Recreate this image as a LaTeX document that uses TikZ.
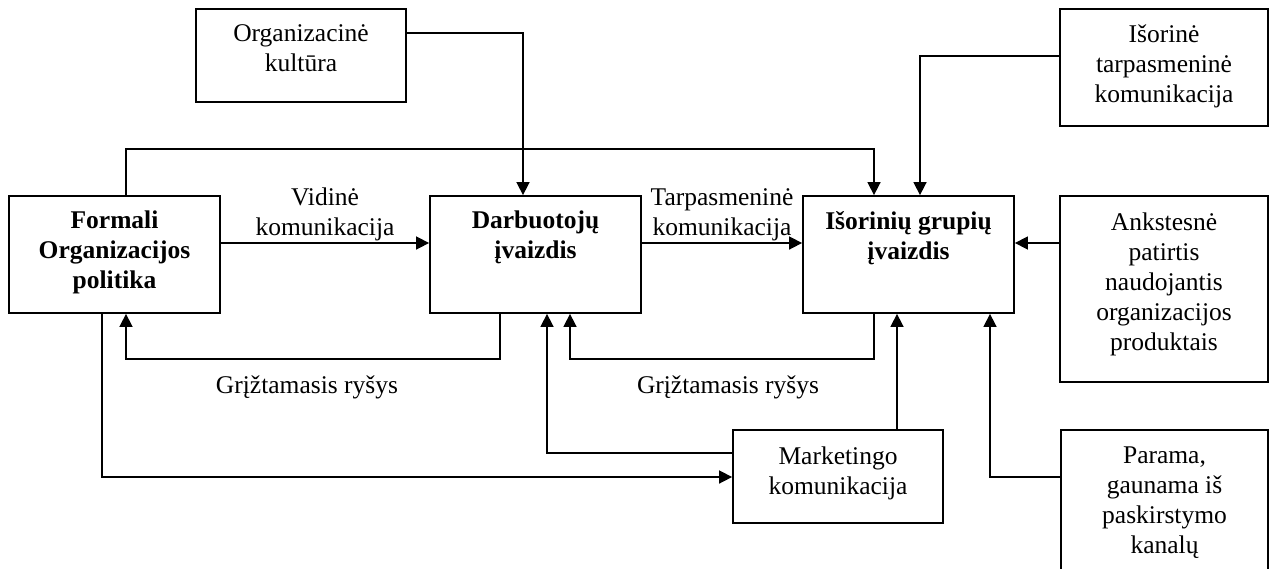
\documentclass[tikz,border=0pt]{standalone}
\usepackage{fontspec}
\setmainfont{Liberation Serif}
\usetikzlibrary{arrows.meta}
\begin{document}
\begin{tikzpicture}[x=1pt,y=-1pt,
  box/.style={draw, line width=1.8pt, inner sep=0pt},
  txt/.style={align=center, inner sep=0pt, font=\fontsize{25.5}{30}\selectfont},
  btxt/.style={txt, font=\fontsize{25.5}{30}\selectfont\bfseries},
  lbl/.style={align=center, inner sep=1pt, font=\fontsize{25.5}{30}\selectfont},
  arr/.style={line width=1.6pt, -{Triangle[length=13pt,width=13pt]}}]
\fill[white] (0,0) rectangle (1271,568);
\useasboundingbox (0,0) rectangle (1271,568);
\clip (0,0) rectangle (1271,568);

% boxes
\node[box, minimum width=210pt, minimum height=93pt] (kul) at (301,55.5) {};
\node[box, minimum width=208pt, minimum height=117pt] (ist) at (1164,67.5) {};
\node[box, minimum width=211pt, minimum height=117pt] (for) at (114.5,254.5) {};
\node[box, minimum width=211pt, minimum height=117pt] (dar) at (535.5,254.5) {};
\node[box, minimum width=211pt, minimum height=117pt] (isg) at (908.5,254.5) {};
\node[box, minimum width=208pt, minimum height=186pt] (ank) at (1164,289) {};
\node[box, minimum width=210pt, minimum height=93pt] (mkt) at (838,476.5) {};
\node[box, minimum width=207pt, minimum height=190pt] (par) at (1164.5,525) {};

% texts
\node[txt, anchor=north, yshift=-16pt] (kult) at (kul.north) {Organizacinė\\kultūra};
\node[txt, anchor=north, yshift=-16pt] (istt) at (ist.north) {Išorinė\\tarpasmeninė\\komunikacija};
\node[btxt, anchor=north, yshift=-16pt] (fort) at (for.north) {Formali\\Organizacijos\\politika};
\node[btxt, anchor=north, yshift=-16pt] (dart) at (dar.north) {Darbuotojų\\įvaizdis};
\node[btxt, anchor=north, yshift=-16pt] (isgt) at (isg.north) {Išorinių grupių\\įvaizdis};
\node[txt, anchor=north, yshift=-18pt] (ankt) at (ank.north) {Ankstesnė\\patirtis\\naudojantis\\organizacijos\\produktais};
\node[txt, anchor=north, yshift=-17pt] (mktt) at (mkt.north) {Marketingo\\komunikacija};
\node[txt, anchor=north, yshift=-17pt] (part) at (par.north) {Parama,\\gaunama iš\\paskirstymo\\kanalų};

% coordinates
\coordinate (c1) at (523,33);
\coordinate (c2a) at (126,149);
\coordinate (c2b) at (874,149);
\coordinate (c3) at (920,56);
\coordinate (ya) at (0,243);
\coordinate (f1a) at (500,359);
\coordinate (f1b) at (126,359);
\coordinate (f2a) at (874,359);
\coordinate (f2b) at (570,359);
\coordinate (m1) at (102,477);
\coordinate (m2) at (547,453);
\coordinate (m3) at (897,0);
\coordinate (p1) at (990,477);

% connectors
\draw[arr] (kul.east |- c1) -- (c1) -- (c1 |- dar.north);
\draw[arr] (c2a |- for.north) -- (c2a) -- (c2b) -- (c2b |- isg.north);
\draw[arr] (ist.west |- c3) -- (c3) -- (c3 |- isg.north);
\draw[arr] (for.east |- ya) -- node[lbl, above] (vid) {Vidinė\\komunikacija} (dar.west |- ya);
\draw[arr] (dar.east |- ya) -- node[lbl, above] (tar) {Tarpasmeninė\\komunikacija} (isg.west |- ya);
\draw[arr] (ank.west |- ya) -- (isg.east |- ya);
\draw[arr] (f1a |- dar.south) -- (f1a) -- (f1b) -- (f1b |- for.south);
\draw[arr] (f2a |- isg.south) -- (f2a) -- (f2b) -- (f2b |- dar.south);
\draw[arr] (m1 |- for.south) -- (m1) -- (mkt.west |- m1);
\draw[arr] (mkt.west |- m2) -- (m2) -- (m2 |- dar.south);
\draw[arr] (m3 |- mkt.north) -- (m3 |- isg.south);
\draw[arr] (par.west |- p1) -- (p1) -- (p1 |- isg.south);

% labels
\node[lbl, anchor=base] (g1) at (307,393) {Grįžtamasis ryšys};
\node[lbl, anchor=base] (g2) at (728,393) {Grįžtamasis ryšys};
\end{tikzpicture}
\end{document}
